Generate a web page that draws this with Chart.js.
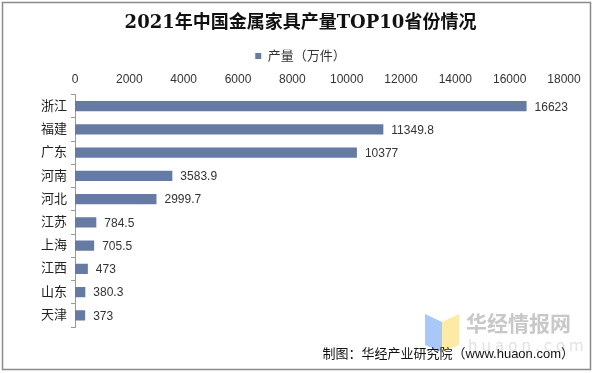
<!DOCTYPE html>
<html>
<head>
<meta charset="utf-8">
<script src="https://cdn.jsdelivr.net/npm/chart.js@4.4.1/dist/chart.umd.min.js"></script>
<style>
  body { margin: 0; background: #fff; }
  canvas { display: block; }
</style>
</head>
<body>
<canvas id="chart" width="593" height="373"></canvas>
<script>
// data
const provinces = ['浙江', '福建', '广东', '河南', '河北', '江苏', '上海', '江西', '山东', '天津'];
const output = [16623, 11349.8, 10377, 3583.9, 2999.7, 784.5, 705.5, 473, 380.3, 373];
const seriesName = '产量（万件）';
const chartTitle = '2021年中国金属家具产量TOP10省份情况';
const sourceNote = '制图：华经产业研究院（www.huaon.com）';

const barColor = '#667ba3';
const cjk = '"Liberation Sans", "Noto Sans CJK SC", sans-serif';

// value labels at bar ends
const valueLabels = {
    id: 'valueLabels',
    afterDatasetsDraw(chart) {
        const ctx = chart.ctx;
        const meta = chart.getDatasetMeta(0);
        ctx.save();
        ctx.font = '12px ' + cjk;
        ctx.fillStyle = '#333';
        ctx.textAlign = 'left';
        ctx.textBaseline = 'middle';
        meta.data.forEach((bar, i) => {
            ctx.fillText(String(output[i]), bar.x + 8, bar.y + 1);
        });
        ctx.restore();
    }
};

// border, watermark and source note
const decorations = {
    id: 'decorations',
    afterDraw(chart) {
        const ctx = chart.ctx;
        ctx.save();
        // watermark logo
        ctx.fillStyle = '#a8c8f8';
        ctx.beginPath();
        ctx.moveTo(425, 314); ctx.lineTo(442, 322); ctx.lineTo(442, 352); ctx.lineTo(425, 345);
        ctx.closePath(); ctx.fill();
        ctx.fillStyle = '#fdeaa6';
        ctx.beginPath();
        ctx.moveTo(442, 322); ctx.lineTo(459, 314); ctx.lineTo(459, 345); ctx.lineTo(442, 352);
        ctx.closePath(); ctx.fill();
        // watermark text
        ctx.fillStyle = '#c8c8c8';
        ctx.font = 'bold 21px "Noto Sans CJK SC", sans-serif';
        ctx.textBaseline = 'middle';
        ctx.textAlign = 'left';
        ctx.fillText('华经情报网', 466, 323);
        ctx.fillStyle = '#e2e2e2';
        ctx.font = '15px "DejaVu Sans", sans-serif';
        if ('letterSpacing' in ctx) ctx.letterSpacing = '4px';
        ctx.fillText('huaon.com', 468, 347);
        if ('letterSpacing' in ctx) ctx.letterSpacing = '0px';
        // source note
        ctx.fillStyle = '#111';
        ctx.font = '13px ' + cjk;
        ctx.textAlign = 'right';
        ctx.fillText(sourceNote, 574, 354);
        // outer border
        ctx.strokeStyle = '#8a8a8a';
        ctx.lineWidth = 1.5;
        ctx.strokeRect(2.5, 2.5, 588, 367);
        ctx.restore();
    }
};

new Chart(document.getElementById('chart'), {
    type: 'bar',
    data: {
        labels: provinces,
        datasets: [{
            label: seriesName,
            data: output,
            backgroundColor: barColor,
            categoryPercentage: 1,
            barPercentage: 0.44
        }]
    },
    options: {
        indexAxis: 'y',
        responsive: false,
        animation: false,
        devicePixelRatio: 1,
        layout: { padding: { top: 9, left: 37, right: 29, bottom: 46 } },
        plugins: {
            title: {
                display: true,
                text: chartTitle,
                color: '#111',
                font: { family: '"DejaVu Serif", "Noto Sans CJK SC", serif', size: 18, weight: 'bold' },
                padding: { top: 4, bottom: 15 }
            },
            legend: {
                display: true,
                position: 'top',
                labels: {
                    color: '#333',
                    font: { family: cjk, size: 13, lineHeight: 1 },
                    boxWidth: 6,
                    boxHeight: 6,
                    padding: 0
                }
            },
            tooltip: { enabled: false }
        },
        scales: {
            x: {
                position: 'top',
                min: 0,
                max: 18000,
                ticks: {
                    stepSize: 2000,
                    color: '#333',
                    font: { family: cjk, size: 12, lineHeight: 1 },
                    padding: 1,
                    callback: v => String(v)
                },
                grid: { display: false },
                border: { display: false }
            },
            y: {
                ticks: {
                    color: '#222',
                    font: { family: cjk, size: 13 },
                    padding: 4
                },
                grid: {
                    offset: true,
                    drawOnChartArea: false,
                    drawTicks: true,
                    tickLength: 4,
                    color: '#999'
                },
                border: { display: true, color: '#999' }
            }
        }
    },
    plugins: [valueLabels, decorations]
});
</script>
</body>
</html>
